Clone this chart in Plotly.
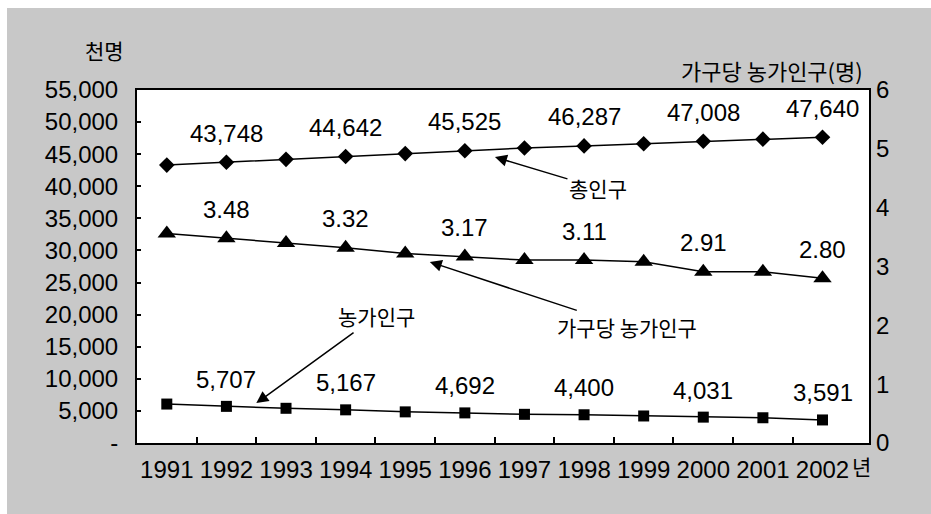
import plotly.graph_objects as go

# 연도별 인구 자료 (단위: 천명, 가구당 농가인구: 명)
years = [1991, 1992, 1993, 1994, 1995, 1996, 1997, 1998, 1999, 2000, 2001, 2002]
year_labels = ["1991", "1992", "1993", "1994", "1995", "1996", "1997", "1998", "1999", "2000", "2001", "2002"]
total_pop = [43296, 43748, 44195, 44642, 45093, 45525, 45954, 46287, 46617, 47008, 47343, 47640]
farm_pop = [6068, 5707, 5407, 5167, 4851, 4692, 4468, 4400, 4210, 4031, 3933, 3591]
per_household = [3.56, 3.48, 3.40, 3.32, 3.22, 3.17, 3.11, 3.11, 3.08, 2.91, 2.91, 2.80]

left_ticks = [0, 5000, 10000, 15000, 20000, 25000, 30000, 35000, 40000, 45000, 50000, 55000]
left_ticktext = ["-"] + [f"{v:,}" for v in left_ticks[1:]]

# 짝수 해에만 값 표시
labelled_years = [1992, 1994, 1996, 1998, 2000, 2002]

BG_GRAY = "#c8c8c8"
AXIS_FONT = dict(family="Liberation Sans, Arial", size=24, color="black")
VALUE_FONT = dict(family="Liberation Sans, Arial", size=24, color="black")
KR_FONT = dict(family="Noto Sans CJK KR", size=21, color="black")

fig = go.Figure()

line_style = dict(color="black", width=1.5)

fig.add_trace(go.Scatter(
    x=years, y=total_pop, mode="lines+markers", name="총인구",
    line=line_style, marker=dict(symbol="diamond", size=12, color="black"),
))
fig.add_trace(go.Scatter(
    x=years, y=per_household, mode="lines+markers", name="가구당 농가인구", yaxis="y2",
    line=line_style, marker=dict(symbol="triangle-up", size=16, color="black"),
))
fig.add_trace(go.Scatter(
    x=years, y=farm_pop, mode="lines+markers", name="농가인구",
    line=line_style, marker=dict(symbol="square", size=11, color="black"),
))

annotations = []
for yr, tp, ph, fp in zip(years, total_pop, per_household, farm_pop):
    if yr not in labelled_years:
        continue
    annotations.append(dict(x=yr, y=tp, xref="x", yref="y", text=f"{tp:,}",
                            showarrow=False, yshift=29, font=VALUE_FONT))
    annotations.append(dict(x=yr, y=ph, xref="x", yref="y2", text=f"{ph:.2f}",
                            showarrow=False, yshift=29, font=VALUE_FONT))
    annotations.append(dict(x=yr, y=fp, xref="x", yref="y", text=f"{fp:,}",
                            showarrow=False, yshift=27, font=VALUE_FONT))

# 계열 이름과 화살표
arrow_common = dict(showarrow=True, arrowhead=2, arrowsize=1.6, arrowwidth=1.5,
                    arrowcolor="black", xref="paper", yref="paper",
                    axref="pixel", ayref="pixel", font=KR_FONT)
annotations.append(dict(text="총인구", x=0.489, y=0.810, ax=103, ay=31, **arrow_common))
annotations.append(dict(text="가구당 농가인구", x=0.400, y=0.513, ax=197, ay=65, **arrow_common))
annotations.append(dict(text="농가인구", x=0.163, y=0.113, ax=120, ay=-87, **arrow_common))

# 축 단위
unit_common = dict(xref="paper", yref="paper", showarrow=False,
                   xanchor="center", yanchor="middle")
annotations.append(dict(text="천명", x=-0.044, y=1.113, font=KR_FONT, **unit_common))
annotations.append(dict(text="가구당 농가인구(명)", x=0.867, y=1.057,
                        font=dict(family="Noto Sans CJK KR", size=22, color="black"), **unit_common))
annotations.append(dict(text="년", x=0.9895, y=-0.066,
                        font=dict(family="Noto Sans CJK KR", size=21, color="black"), **unit_common))

fig.update_layout(
    width=931, height=514,
    margin=dict(l=137, r=62, t=90, b=71),
    paper_bgcolor=BG_GRAY,
    plot_bgcolor="white",
    showlegend=False,
    annotations=annotations,
    xaxis=dict(
        range=[1990.5, 2002.78], automargin=False, tickangle=0,
        tickmode="array", tickvals=years, ticktext=year_labels,
        ticks="", showgrid=False, zeroline=False,
        showline=True, linecolor="black", linewidth=2, mirror=True,
        tickfont=AXIS_FONT, ticklabelstandoff=4,
        minor=dict(tickmode="array", tickvals=[y + 0.5 for y in years[:-1]],
                   ticks="inside", ticklen=6, tickwidth=1.5, tickcolor="black", showgrid=False),
    ),
    yaxis=dict(
        range=[0, 55000], automargin=False,
        tickmode="array", tickvals=left_ticks, ticktext=left_ticktext,
        ticks="inside", ticklen=4, tickwidth=1.5, tickcolor="black",
        showgrid=False, zeroline=False,
        showline=True, linecolor="black", linewidth=2, mirror=True,
        tickfont=AXIS_FONT, ticklabelstandoff=12,
    ),
    yaxis2=dict(
        range=[0, 6], overlaying="y", side="right", automargin=False,
        tickmode="linear", tick0=0, dtick=1, ticks="",
        showgrid=False, zeroline=False, showline=False,
        tickfont=AXIS_FONT, ticklabelstandoff=6,
    ),
    shapes=[
        # 상단과 좌측의 흰 여백
        dict(type="rect", xref="paper", yref="paper", x0=-137 / 732, x1=794 / 732,
             y0=435 / 353, y1=443 / 353, fillcolor="white", line=dict(width=0), layer="below"),
        dict(type="rect", xref="paper", yref="paper", x0=-137 / 732, x1=-130 / 732,
             y0=-71 / 353, y1=443 / 353, fillcolor="white", line=dict(width=0), layer="below"),
    ],
)

fig.write_html(
    "out.html",
    post_script=(
        "document.documentElement.style.margin='0';"
        "document.body.style.margin='0';"
        "document.body.style.overflow='hidden';"
        "document.documentElement.style.overflow='hidden';"
        f"document.body.style.background='{BG_GRAY}';"
        f"document.documentElement.style.background='{BG_GRAY}';"
    ),
)
